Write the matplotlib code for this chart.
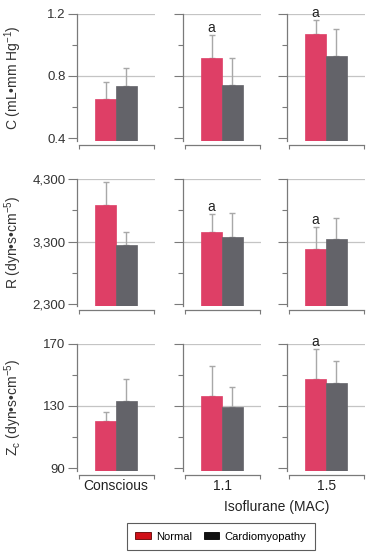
import matplotlib
matplotlib.use("Agg")
import matplotlib.pyplot as plt
from matplotlib.patches import Patch
import numpy as np

# ---- data ----
groups = ["Conscious", "1.1", "1.5"]
series = ["Normal", "Cardiomyopathy"]

c_normal = [0.654, 0.914, 1.072]
c_normal_err = [0.106, 0.147, 0.088]
c_cardio = [0.738, 0.742, 0.928]
c_cardio_err = [0.113, 0.176, 0.172]

r_normal = [3890, 3449, 3188]
r_normal_err = [367, 298, 345]
r_cardio = [3246, 3373, 3348]
r_cardio_err = [208, 384, 335]

z_normal = [120.4, 136.2, 147.3]
z_normal_err = [5.7, 19.3, 19.0]
z_cardio = [132.8, 129.2, 144.9]
z_cardio_err = [14.5, 12.8, 13.9]

c_sig = ["", "a", "a"]
r_sig = ["", "a", "a"]
z_sig = ["", "", "a"]

rows = [
    dict(n=c_normal, ne=c_normal_err, c=c_cardio, ce=c_cardio_err, sig=c_sig,
         ylim=(0.385, 1.2), major=[0.4, 0.8, 1.2], minor=[0.6, 1.0],
         labels=["0.4", "0.8", "1.2"], ylabel="C (mL\u2022mm Hg$^{-1}$)"),
    dict(n=r_normal, ne=r_normal_err, c=r_cardio, ce=r_cardio_err, sig=r_sig,
         ylim=(2273, 4300), major=[2300, 3300, 4300], minor=[2800, 3800],
         labels=["2,300", "3,300", "4,300"], ylabel="R (dyn\u2022s\u2022cm$^{-5}$)"),
    dict(n=z_normal, ne=z_normal_err, c=z_cardio, ce=z_cardio_err, sig=z_sig,
         ylim=(88.3, 170), major=[90, 130, 170], minor=[110, 150],
         labels=["90", "130", "170"], ylabel="Z$_\\mathrm{c}$ (dyn\u2022s\u2022cm$^{-5}$)"),
]

red = "#DE3F66"
gray = "#636369"
errc = "#a8a8a8"
spc = "#7a7a7a"

plt.rcParams["font.family"] = ["Liberation Sans", "DejaVu Sans"]
plt.rcParams["mathtext.fontset"] = "custom"
plt.rcParams["mathtext.rm"] = "Liberation Sans"
plt.rcParams["mathtext.it"] = "Liberation Sans"

fig = plt.figure(figsize=(3.74, 5.55), dpi=100)
lefts = [0.2059, 0.4893, 0.7674]
width = 0.209
bottoms = [0.7465, 0.4486, 0.1519]
height = 0.229

bw = 0.265
for ri, row in enumerate(rows):
    for ci in range(3):
        ax = fig.add_axes([lefts[ci], bottoms[ri], width, height])
        ax.set_xlim(0, 1)
        ax.set_ylim(*row["ylim"])
        y0 = row["ylim"][0]
        xs = [0.5 - bw / 2, 0.5 + bw / 2]
        vals = [row["n"][ci], row["c"][ci]]
        errs = [row["ne"][ci], row["ce"][ci]]
        cols = [red, gray]
        for x, v, e, col in zip(xs, vals, errs, cols):
            ax.bar(x, v - y0, bottom=y0, width=bw, color=col, edgecolor=col,
                   linewidth=0.5, zorder=3)
            ax.errorbar(x, v, yerr=[[0], [e]], fmt="none", ecolor=errc,
                        elinewidth=1.0, capsize=2.4, capthick=1.0, zorder=2)
        if row["sig"][ci]:
            ax.text(xs[0], row["n"][ci] + row["ne"][ci], row["sig"][ci],
                    ha="center", va="bottom", fontsize=10, color="#222222",
                    zorder=4)
        ax.set_yticks(row["major"])
        ax.set_yticks(row["minor"], minor=True)
        ax.yaxis.grid(True, which="major", color="#c4c4c4", linewidth=0.9,
                      zorder=0)
        ax.get_ygridlines()[0].set_visible(False)
        ax.set_axisbelow(True)
        ax.tick_params(axis="y", which="major", direction="out", length=6.3,
                       width=0.8, color=spc, labelsize=9.5, pad=2,
                       labelcolor="#333333")
        ax.tick_params(axis="y", which="minor", direction="out", length=3.5,
                       width=0.8, color=spc)
        if ci == 0:
            ax.set_yticklabels(row["labels"])
            ax.set_ylabel(row["ylabel"], fontsize=10, color="#333333")
            ax.yaxis.set_label_coords(-0.68, 0.5)
        else:
            ax.set_yticklabels([])
        for s in ["top", "right"]:
            ax.spines[s].set_visible(False)
        ax.spines["left"].set_color(spc)
        ax.spines["left"].set_linewidth(0.9)
        ax.spines["bottom"].set_color(spc)
        ax.spines["bottom"].set_linewidth(0.9)
        ax.spines["bottom"].set_position(("outward", 3))
        ax.spines["bottom"].set_bounds(0.03, 0.99)
        ax.set_xticks([0.03, 0.99])
        ax.set_xticklabels([])
        ax.tick_params(axis="x", direction="out", length=3, width=0.8,
                       color=spc)
        if ri == 2:
            ax.text(0.5, -0.12, groups[ci], transform=ax.transAxes,
                    ha="center", va="center", fontsize=10, color="#222222")

fig.text(0.74, 1 - 507.5 / 555, "Isoflurane (MAC)", ha="center", va="center",
         fontsize=10, color="#222222")

handles = [Patch(facecolor="#d01018", edgecolor="#600000", linewidth=0.6),
           Patch(facecolor="#111111", edgecolor="#000000", linewidth=0.6)]
leg = fig.legend(handles, series, loc="center",
                 bbox_to_anchor=(221 / 374, 1 - 536.5 / 555),
                 ncol=2, fontsize=8, frameon=True, fancybox=False,
                 handlelength=1.4, handleheight=0.5, handletextpad=0.5,
                 columnspacing=1.0, borderpad=0.75, edgecolor="#333333")
leg.get_frame().set_linewidth(0.8)

fig.savefig("out.png", dpi=100)
